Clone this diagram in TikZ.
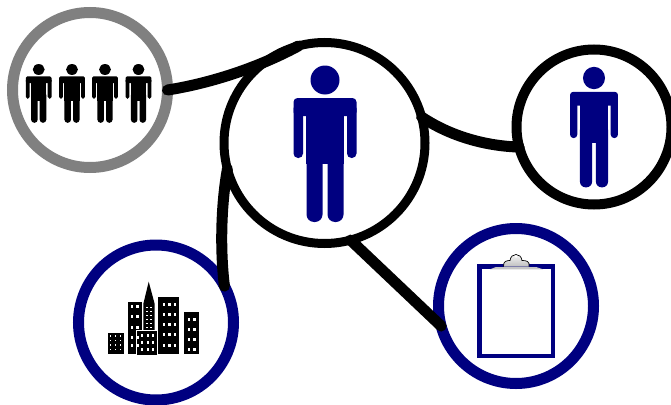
\documentclass[tikz,border=0pt]{standalone}
\definecolor{navyblue}{RGB}{0,0,128}
\definecolor{ringgray}{RGB}{128,128,128}
\tikzset{
  ring/.style={circle,draw,fill=white,inner sep=0pt,outer sep=0pt},
  link/.style={draw=black,line width=11pt,line cap=round},
  pics/person/.style n args={3}{code={
    \begin{scope}[xscale=#1,yscale=#2]
      \fill[#3] (0,0) circle[radius=14.5];
      \fill[#3,rounded corners=#1*4pt] (-31.5,18) rectangle (31.5,36);
      \fill[#3,rounded corners=#1*4.5pt] (-31.5,24) rectangle (-22,78);
      \fill[#3,rounded corners=#1*4.5pt] (22,24) rectangle (31.5,78);
      \fill[#3] (-19,24) rectangle (19,84);
      \fill[#3,rounded corners=#1*7.5pt] (-18.5,60) rectangle (-2.5,142);
      \fill[#3,rounded corners=#1*7.5pt] (2.5,60) rectangle (18.5,142);
      \fill[#3] (-5,72) rectangle (5,77);
    \end{scope}
  }},
}
\begin{document}
\begin{tikzpicture}[x=1pt,y=-1pt]
\useasboundingbox (0,0) rectangle (671,404);
% rings
\node[ring,draw=ringgray,line width=11pt,minimum size=155pt] (team) at (90,90) {};
\node[ring,draw=black,line width=9pt,minimum size=201pt] (lead) at (324.5,143) {};
\node[ring,draw=black,line width=10pt,minimum size=155pt] (solo) at (594,127) {};
\node[ring,draw=navyblue,line width=11pt,minimum size=155pt] (city) at (156,322.5) {};
\node[ring,draw=navyblue,line width=11pt,minimum size=155pt] (clip) at (516,306) {};
% people
\pic at (325,80) {person={1}{1}{navyblue}};
\pic at (594,78) {person={0.76}{0.77}{navyblue}};
\pic at (38.7,69.5) {person={0.41}{0.375}{black}};
\pic at (72,69.5) {person={0.41}{0.375}{black}};
\pic at (105,69.5) {person={0.41}{0.375}{black}};
\pic at (138.5,69.5) {person={0.41}{0.375}{black}};
% city
\fill (107.5,332.5) rectangle (124,354.3);
\fill (127.7,302) rectangle (142,354.3);
\fill (143.3,304) -- (148.7,281.7) -- (154.7,304) -- (154.7,331) -- (143.3,331) -- cycle;
\fill (158.3,296.7) rectangle (179.3,354.3);
\fill (184,312.3) rectangle (198.7,354.3);
\draw[white,line width=0.8pt,fill=black] (136.7,330) rectangle (157.3,355.7);
\foreach \wx in {109.6,114.6,119.6} \foreach \wy in {335,339.5,344,348.5} \fill[white] (\wx,\wy) rectangle ++(1.5,1.5);
\foreach \wx in {130.5,136} \foreach \wy in {305,315,326,336,344} \fill[white] (\wx,\wy) rectangle ++(2.6,2.6);
\foreach \wy in {299,303,307,311,315,319} \foreach \wx in {145.5,149.5} \fill[white] (\wx,\wy+8) rectangle ++(2.2,1);
\foreach \wx in {141,147,152} \foreach \wy in {334,341,348} \fill[white] (\wx,\wy) rectangle ++(2.2,2.6);
\foreach \wx in {162.5,168,173.5} \foreach \wy in {303,313,323,333,344} \fill[white] (\wx,\wy) rectangle ++(2.6,2.6);
\foreach \wx in {187.5,193} \foreach \wy in {318,328,338,348} \fill[white] (\wx,\wy) rectangle ++(2.6,2.6);
% clipboard
\fill[navyblue] (476.7,264) rectangle (555,358.3);
\fill[white] (481.7,269.3) rectangle (550.7,354);
\fill[ringgray!45] (490,269.3) -- (496,267) -- (536,267) -- (543,269.3) -- cycle;
\draw[black,line width=0.7pt,top color=white,bottom color=ringgray!50] (503.5,266.5) .. controls (503,261) and (507,260.5) .. (510,260.5) .. controls (511,252.5) and (521,252.5) .. (522,260.5) .. controls (526,260.5) and (530,261) .. (529,266.5);
\fill[white] (516,256.5) circle[radius=1.3];
% connectors
\path[link] (team.east) .. controls (200,85) and (250,72) .. (lead.105);
\path[link] (lead.15.6) .. controls (450,136) and (485,146) .. (solo.195);
\path[link] (lead.195) .. controls (221,205) and (220,250) .. (city.28);
\path[link] (lead.-75.5) -- (clip.195);
\end{tikzpicture}
\end{document}
